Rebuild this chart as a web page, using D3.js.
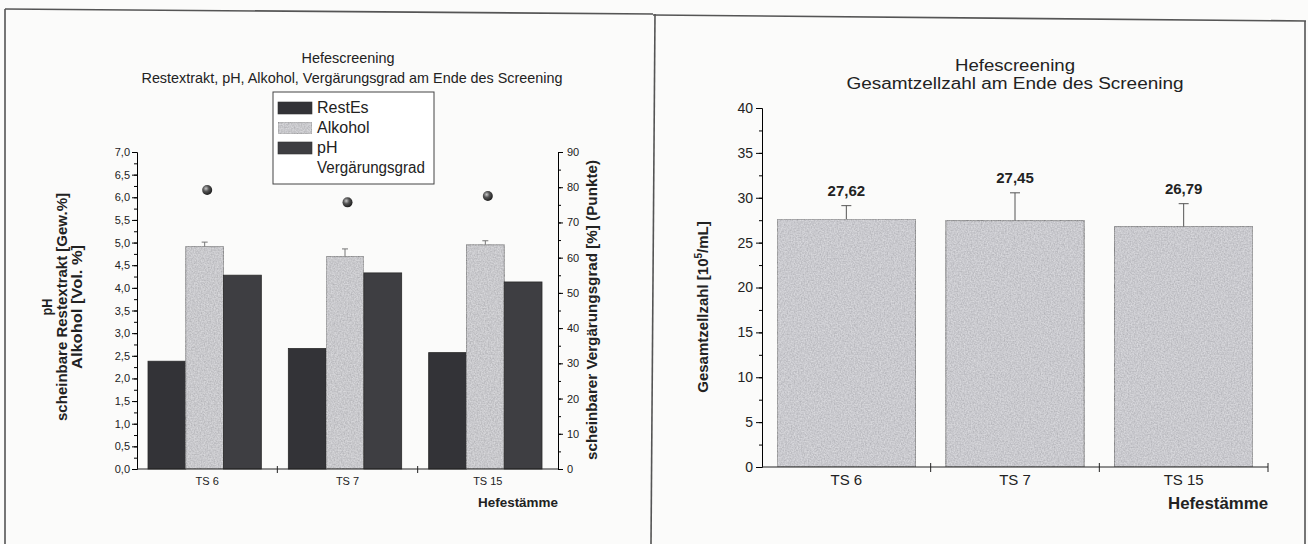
<!DOCTYPE html>
<html>
<head>
<meta charset="utf-8">
<script src="https://cdn.jsdelivr.net/npm/d3@7"></script>
<style>
  html, body { margin: 0; padding: 0; background: #fbfbfa; }
  svg { display: block; }
  text { font-family: "Liberation Sans", Arial, Helvetica, sans-serif; fill: #222; }
</style>
</head>
<body>
<svg id="chart" width="1308" height="544"></svg>
<script>
// ---- data: left panel ----
const strains = ["TS 6", "TS 7", "TS 15"];
const seriesNames = ["RestEs", "Alkohol", "pH"];
const restEs = [2.38, 2.66, 2.57];
const alkohol = [4.91, 4.69, 4.95];
const alkoholErr = [0.10, 0.17, 0.09];
const phValues = [4.28, 4.33, 4.13];
const vergaerungsgrad = [79.2, 75.7, 77.5];
const leftTicks = [0, 0.5, 1, 1.5, 2, 2.5, 3, 3.5, 4, 4.5, 5, 5.5, 6, 6.5, 7];
const rightTicks = [0, 10, 20, 30, 40, 50, 60, 70, 80, 90];

// ---- data: right panel ----
const zellzahl = [27.62, 27.45, 26.79];
const zellzahlErr = [1.5, 3.1, 2.55];
const zellzahlLabels = ["27,62", "27,45", "26,79"];
const zellTicks = [0, 5, 10, 15, 20, 25, 30, 35, 40];

const svg = d3.select("#chart");
const comma = d => d3.format(".1f")(d).replace(".", ",");

// ---- defs: grain for the bar fills, shading for the dots ----
const defs = svg.append("defs");
const grain = defs.append("filter").attr("id", "grain").attr("x", 0).attr("y", 0).attr("width", 1).attr("height", 1);
grain.append("feTurbulence").attr("type", "fractalNoise").attr("baseFrequency", 0.7).attr("numOctaves", 2).attr("seed", 3).attr("result", "noise");
grain.append("feColorMatrix").attr("in", "noise").attr("type", "matrix")
  .attr("values", "0.9 0 0 0 0.28  0.9 0 0 0 0.28  0.9 0 0 0 0.3  0 0 0 0 0.4").attr("result", "speck");
grain.append("feComposite").attr("in", "speck").attr("in2", "SourceGraphic").attr("operator", "in").attr("result", "speckIn");
const gm = grain.append("feMerge");
gm.append("feMergeNode").attr("in", "SourceGraphic");
gm.append("feMergeNode").attr("in", "speckIn");

const ball = defs.append("radialGradient").attr("id", "ball").attr("cx", "38%").attr("cy", "35%").attr("r", "65%");
ball.append("stop").attr("offset", "0%").attr("stop-color", "#c8c8c8");
ball.append("stop").attr("offset", "45%").attr("stop-color", "#555");
ball.append("stop").attr("offset", "100%").attr("stop-color", "#1e1e1e");

// ---- panel frames ----
const frame = svg.append("g").attr("stroke", "#555").attr("stroke-width", 1.6).attr("fill", "none");
frame.append("line").attr("x1", 5).attr("y1", 9).attr("x2", 653).attr("y2", 14);
frame.append("line").attr("x1", 5).attr("y1", 9).attr("x2", 5).attr("y2", 544);
frame.append("line").attr("x1", 655).attr("y1", 14).attr("x2", 651).attr("y2", 544);
frame.append("line").attr("x1", 653).attr("y1", 15).attr("x2", 1306).attr("y2", 21);
frame.append("line").attr("x1", 1305).attr("y1", 21).attr("x2", 1305).attr("y2", 544);

// =========================== LEFT PANEL ===========================
const L = { x0: 137, x1: 558, yTop: 152, yBot: 469 };
const lx = d3.scaleBand().domain(strains).range([L.x0, L.x1]).paddingInner(0).paddingOuter(0);
const lInner = d3.scaleBand().domain(seriesNames).range([11, lx.bandwidth() - 16]).padding(0);
const ly = d3.scaleLinear().domain([0, 7]).range([L.yBot, L.yTop]);
const ly2 = d3.scaleLinear().domain([0, 90]).range([L.yBot, L.yTop]);
const left = svg.append("g");

const fills = { RestEs: "#333337", Alkohol: "#b9b9bd", pH: "#3e3e42" };
const seriesData = { RestEs: restEs, Alkohol: alkohol, pH: phValues };

seriesNames.forEach(name => {
  left.append("g").selectAll("rect").data(strains).join("rect")
    .attr("x", d => lx(d) + lInner(name))
    .attr("width", lInner.bandwidth())
    .attr("y", (d, i) => ly(seriesData[name][i]))
    .attr("height", (d, i) => L.yBot - ly(seriesData[name][i]))
    .attr("fill", fills[name])
    .attr("stroke", "#2a2a2a").attr("stroke-width", 0.8)
    .attr("filter", name === "Alkohol" ? "url(#grain)" : null);
});

// error bars on alcohol
const errL = left.append("g").attr("stroke", "#777").attr("stroke-width", 1);
strains.forEach((s, i) => {
  const cx = lx(s) + lInner("Alkohol") + lInner.bandwidth() / 2;
  errL.append("line").attr("x1", cx).attr("x2", cx).attr("y1", ly(alkohol[i])).attr("y2", ly(alkohol[i] + alkoholErr[i]));
  errL.append("line").attr("x1", cx - 3).attr("x2", cx + 3).attr("y1", ly(alkohol[i] + alkoholErr[i])).attr("y2", ly(alkohol[i] + alkoholErr[i]));
});

// attenuation points (right axis)
left.append("g").selectAll("circle").data(strains).join("circle")
  .attr("cx", d => lx(d) + lx.bandwidth() / 2)
  .attr("cy", (d, i) => ly2(vergaerungsgrad[i]))
  .attr("r", 5)
  .attr("fill", "url(#ball)");

// left axis
const minorLeft = d3.range(0, 7.01, 0.25);
left.append("g").attr("transform", `translate(${L.x0},0)`)
  .call(d3.axisLeft(ly).tickValues(minorLeft).tickSize(3).tickFormat(""))
  .call(g => g.select(".domain").remove());
left.append("g").attr("transform", `translate(${L.x0},0)`)
  .call(d3.axisLeft(ly).tickValues(leftTicks).tickSize(5).tickPadding(2).tickFormat(comma))
  .call(g => g.selectAll("text").style("font-size", "11px").attr("fill", "#333"));

// right axis
const minorRight = d3.range(0, 90.1, 5);
left.append("g").attr("transform", `translate(${L.x1},0)`)
  .call(d3.axisRight(ly2).tickValues(minorRight).tickSize(3).tickFormat(""))
  .call(g => g.select(".domain").remove());
left.append("g").attr("transform", `translate(${L.x1},0)`)
  .call(d3.axisRight(ly2).tickValues(rightTicks).tickSize(5).tickPadding(4).tickFormat(d3.format("d")))
  .call(g => g.selectAll("text").style("font-size", "11px").attr("fill", "#333"));

// x axis
const lxAxis = left.append("g").attr("transform", `translate(0,${L.yBot})`);
lxAxis.append("line").attr("x1", L.x0).attr("x2", L.x1).attr("stroke", "#222").attr("stroke-width", 1.2);
lxAxis.selectAll("line.sep").data(strains.slice(1)).join("line").attr("class", "sep")
  .attr("x1", d => lx(d)).attr("x2", d => lx(d)).attr("y1", -3).attr("y2", 4)
  .attr("stroke", "#222");
lxAxis.selectAll("text").data(strains).join("text")
  .attr("x", d => lx(d) + lx.bandwidth() / 2).attr("y", 16)
  .attr("text-anchor", "middle").style("font-size", "11px").text(d => d);
left.append("text").attr("x", L.x1).attr("y", 507).attr("text-anchor", "end")
  .style("font-size", "13px").style("font-weight", "bold").attr("textLength", 80).attr("lengthAdjust", "spacingAndGlyphs")
  .text("Hefestämme");

// titles
left.append("text").attr("x", 348).attr("y", 63).attr("text-anchor", "middle")
  .style("font-size", "15px").attr("textLength", 93).attr("lengthAdjust", "spacingAndGlyphs").text("Hefescreening");
left.append("text").attr("x", 352).attr("y", 83).attr("text-anchor", "middle")
  .style("font-size", "15px").attr("textLength", 421).attr("lengthAdjust", "spacingAndGlyphs")
  .text("Restextrakt, pH, Alkohol, Vergärungsgrad am Ende des Screening");

// y-axis titles
const yTitles = [
  { t: "pH", x: 52, len: 17 },
  { t: "scheinbare Restextrakt [Gew.%]", x: 67, len: 228 },
  { t: "Alkohol [Vol. %]", x: 82, len: 124 }
];
yTitles.forEach(d => {
  left.append("text").attr("transform", `translate(${d.x},307) rotate(-90)`)
    .attr("text-anchor", "middle").style("font-size", "14px").style("font-weight", "bold")
    .attr("textLength", d.len).attr("lengthAdjust", "spacingAndGlyphs").text(d.t);
});
left.append("text").attr("transform", `translate(597,310) rotate(-90)`)
  .attr("text-anchor", "middle").style("font-size", "14px").style("font-weight", "bold")
  .attr("textLength", 300).attr("lengthAdjust", "spacingAndGlyphs")
  .text("scheinbarer Vergärungsgrad [%] (Punkte)");

// legend
const leg = left.append("g");
leg.append("rect").attr("x", 273).attr("y", 92).attr("width", 161).attr("height", 92)
  .attr("fill", "#fff").attr("stroke", "#444").attr("stroke-width", 1);
const legItems = [...seriesNames, "Vergärungsgrad"];
legItems.forEach((name, i) => {
  const cy = 108 + i * 20;
  if (fills[name]) {
    leg.append("rect").attr("x", 278).attr("y", cy - 6).attr("width", 34).attr("height", 12)
      .attr("fill", fills[name]).attr("stroke", "#333").attr("stroke-width", 0.6)
      .attr("filter", name === "Alkohol" ? "url(#grain)" : null);
  }
  leg.append("text").attr("x", 317).attr("y", cy + 5).style("font-size", "16px")
    .attr("textLength", name === "Vergärungsgrad" ? 108 : null).attr("lengthAdjust", "spacingAndGlyphs").text(name);
});

// =========================== RIGHT PANEL ===========================
const R = { x0: 762, x1: 1268, yTop: 108, yBot: 467 };
const rx = d3.scaleBand().domain(strains).range([R.x0, R.x1]).paddingInner(0.18).paddingOuter(0.09);
const ry = d3.scaleLinear().domain([0, 40]).range([R.yBot, R.yTop]);
const right = svg.append("g");

right.append("g").selectAll("rect").data(strains).join("rect")
  .attr("x", d => rx(d)).attr("width", rx.bandwidth())
  .attr("y", (d, i) => ry(zellzahl[i])).attr("height", (d, i) => R.yBot - ry(zellzahl[i]))
  .attr("fill", "#babac1").attr("stroke", "#3a3a3a").attr("stroke-width", 1)
  .attr("filter", "url(#grain)");

const errR = right.append("g").attr("stroke", "#555").attr("stroke-width", 1);
strains.forEach((s, i) => {
  const cx = rx(s) + rx.bandwidth() / 2;
  const top = ry(zellzahl[i] + zellzahlErr[i]);
  errR.append("line").attr("x1", cx).attr("x2", cx).attr("y1", ry(zellzahl[i])).attr("y2", top);
  errR.append("line").attr("x1", cx - 5).attr("x2", cx + 5).attr("y1", top).attr("y2", top);
  right.append("text").attr("x", cx).attr("y", top - 10).attr("text-anchor", "middle")
    .style("font-size", "15px").style("font-weight", "bold").attr("fill", "#333").text(zellzahlLabels[i]);
});

// y axis
right.append("g").attr("transform", `translate(${R.x0},0)`)
  .call(d3.axisLeft(ry).tickValues(d3.range(0, 40.1, 2.5)).tickSize(3).tickFormat(""))
  .call(g => g.select(".domain").remove());
right.append("g").attr("transform", `translate(${R.x0},0)`)
  .call(d3.axisLeft(ry).tickValues(zellTicks).tickSize(6).tickPadding(3).tickFormat(d3.format("d")))
  .call(g => g.selectAll("text").style("font-size", "14px").attr("fill", "#333"));

// x axis
const rxAxis = right.append("g").attr("transform", `translate(0,${R.yBot})`);
rxAxis.append("line").attr("x1", R.x0).attr("x2", R.x1).attr("stroke", "#222").attr("stroke-width", 1.2);
const seps = [R.x0 + (R.x1 - R.x0) / 3, R.x0 + 2 * (R.x1 - R.x0) / 3, R.x1];
rxAxis.selectAll("line.sep").data(seps).join("line").attr("class", "sep")
  .attr("x1", d => d).attr("x2", d => d).attr("y1", -4).attr("y2", 5).attr("stroke", "#222");
rxAxis.selectAll("text").data(strains).join("text")
  .attr("x", d => rx(d) + rx.bandwidth() / 2).attr("y", 18)
  .attr("text-anchor", "middle").style("font-size", "15px").attr("fill", "#333").text(d => d);
right.append("text").attr("x", R.x1).attr("y", 509).attr("text-anchor", "end")
  .style("font-size", "16px").style("font-weight", "bold").attr("textLength", 100).attr("lengthAdjust", "spacingAndGlyphs")
  .text("Hefestämme");

// titles
right.append("text").attr("x", 1015).attr("y", 71).attr("text-anchor", "middle")
  .style("font-size", "16px").attr("textLength", 120).attr("lengthAdjust", "spacingAndGlyphs").text("Hefescreening");
right.append("text").attr("x", 1015).attr("y", 89).attr("text-anchor", "middle")
  .style("font-size", "16px").attr("textLength", 337).attr("lengthAdjust", "spacingAndGlyphs")
  .text("Gesamtzellzahl am Ende des Screening");

// y title with superscript
const ryt = right.append("text").attr("transform", `translate(708,307) rotate(-90)`)
  .attr("text-anchor", "middle").style("font-size", "15px").style("font-weight", "bold");
ryt.append("tspan").text("Gesamtzellzahl [10");
ryt.append("tspan").attr("dy", -6).style("font-size", "10px").text("5");
ryt.append("tspan").attr("dy", 6).text("/mL]");
</script>
</body>
</html>
